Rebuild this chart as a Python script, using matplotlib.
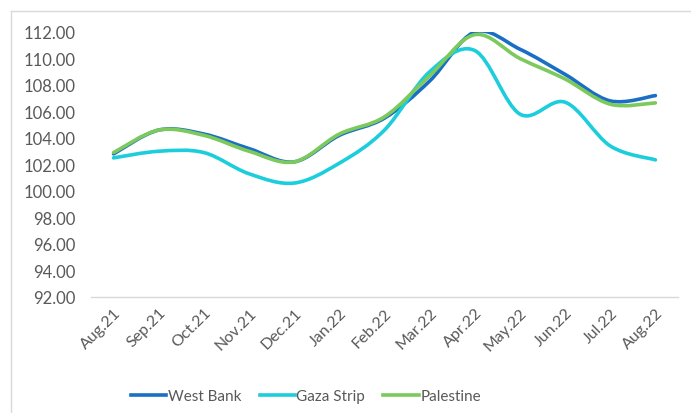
import numpy as np
import matplotlib
matplotlib.use('Agg')
import matplotlib.pyplot as plt
from matplotlib.path import Path
from matplotlib.patches import PathPatch
from matplotlib.lines import Line2D

# 数据
months = ['Aug.21', 'Sep.21', 'Oct.21', 'Nov.21', 'Dec.21', 'Jan.22', 'Feb.22',
          'Mar.22', 'Apr.22', 'May.22', 'Jun.22', 'Jul.22', 'Aug.22']
west_bank = [102.8, 104.6, 104.3, 103.2, 102.2, 104.2, 105.5, 108.3, 112.0, 110.7, 108.8, 106.8, 107.2]
gaza_strip = [102.5, 103.0, 102.9, 101.3, 100.6, 102.1, 104.6, 109.0, 110.6, 105.8, 106.7, 103.4, 102.35]
palestine = [102.9, 104.6, 104.2, 103.0, 102.2, 104.3, 105.6, 108.7, 111.8, 110.0, 108.45, 106.55, 106.65]

series = [
    ('West Bank', west_bank, '#1A6FC4'),
    ('Gaza Strip', gaza_strip, '#1CCDDC'),
    ('Palestine', palestine, '#7CC95C'),
]

TEXT_COLOR = '#595959'
plt.rcParams['font.family'] = ['Lato', 'DejaVu Sans']


def smooth_path(x, y):
    # Excel 风格的平滑曲线 (Bezier, 张力 1/6)
    pts = np.column_stack([x, y]).astype(float)
    n = len(pts)
    verts = [pts[0]]
    codes = [Path.MOVETO]
    for i in range(n - 1):
        p0 = pts[i - 1] if i > 0 else pts[i]
        p1 = pts[i]
        p2 = pts[i + 1]
        p3 = pts[i + 2] if i + 2 < n else pts[i + 1]
        c1 = p1 + (p2 - p0) / 6.0
        c2 = p2 - (p3 - p1) / 6.0
        verts += [c1, c2, p2]
        codes += [Path.CURVE4] * 3
    return Path(verts, codes)


fig = plt.figure(figsize=(6.91, 4.14), dpi=100)
ax = fig.add_axes([91 / 691, 1 - 298 / 414, (678 - 91) / 691, (298 - 33) / 414])

x = np.arange(len(months))
for name, vals, color in series:
    patch = PathPatch(smooth_path(x, vals), facecolor='none', edgecolor=color,
                      lw=2.6, capstyle='round', joinstyle='round')
    ax.add_patch(patch)

ax.set_xlim(-0.5, len(months) - 0.5)
ax.set_ylim(92, 112)
ax.set_yticks(np.arange(92, 112.1, 2))
ax.set_yticklabels([f'{v:.2f}' for v in np.arange(92, 112.1, 2)], fontsize=12)
ax.set_xticks(x)
ax.set_xticklabels(months, rotation=45, ha='right', rotation_mode='anchor', fontsize=11.5)

for s in ['top', 'right', 'left']:
    ax.spines[s].set_visible(False)
ax.spines['bottom'].set_color('#D9D9D9')
ax.spines['bottom'].set_linewidth(1.0)
ax.tick_params(axis='both', length=0, colors=TEXT_COLOR)
ax.tick_params(axis='y', pad=11)
ax.tick_params(axis='x', pad=6)

# 图表外框 (只露出左边和上边)
fig.add_artist(Line2D([11 / 691, 11 / 691], [0, 1 - 12 / 414], color='#D9D9D9', lw=1.0))
fig.add_artist(Line2D([11 / 691, 1], [1 - 12 / 414, 1 - 12 / 414], color='#D9D9D9', lw=1.0))

handles = [Line2D([], [], color=c, lw=2.6) for _, _, c in series]
fig.legend(handles, [n for n, _, _ in series], loc='center', ncol=3,
           bbox_to_anchor=(306 / 691, 1 - 397 / 414), frameon=False,
           fontsize=11, labelcolor=TEXT_COLOR, handlelength=2.3,
           handletextpad=0.1, columnspacing=1.2)

fig.savefig('out.png', dpi=100, facecolor='white')
